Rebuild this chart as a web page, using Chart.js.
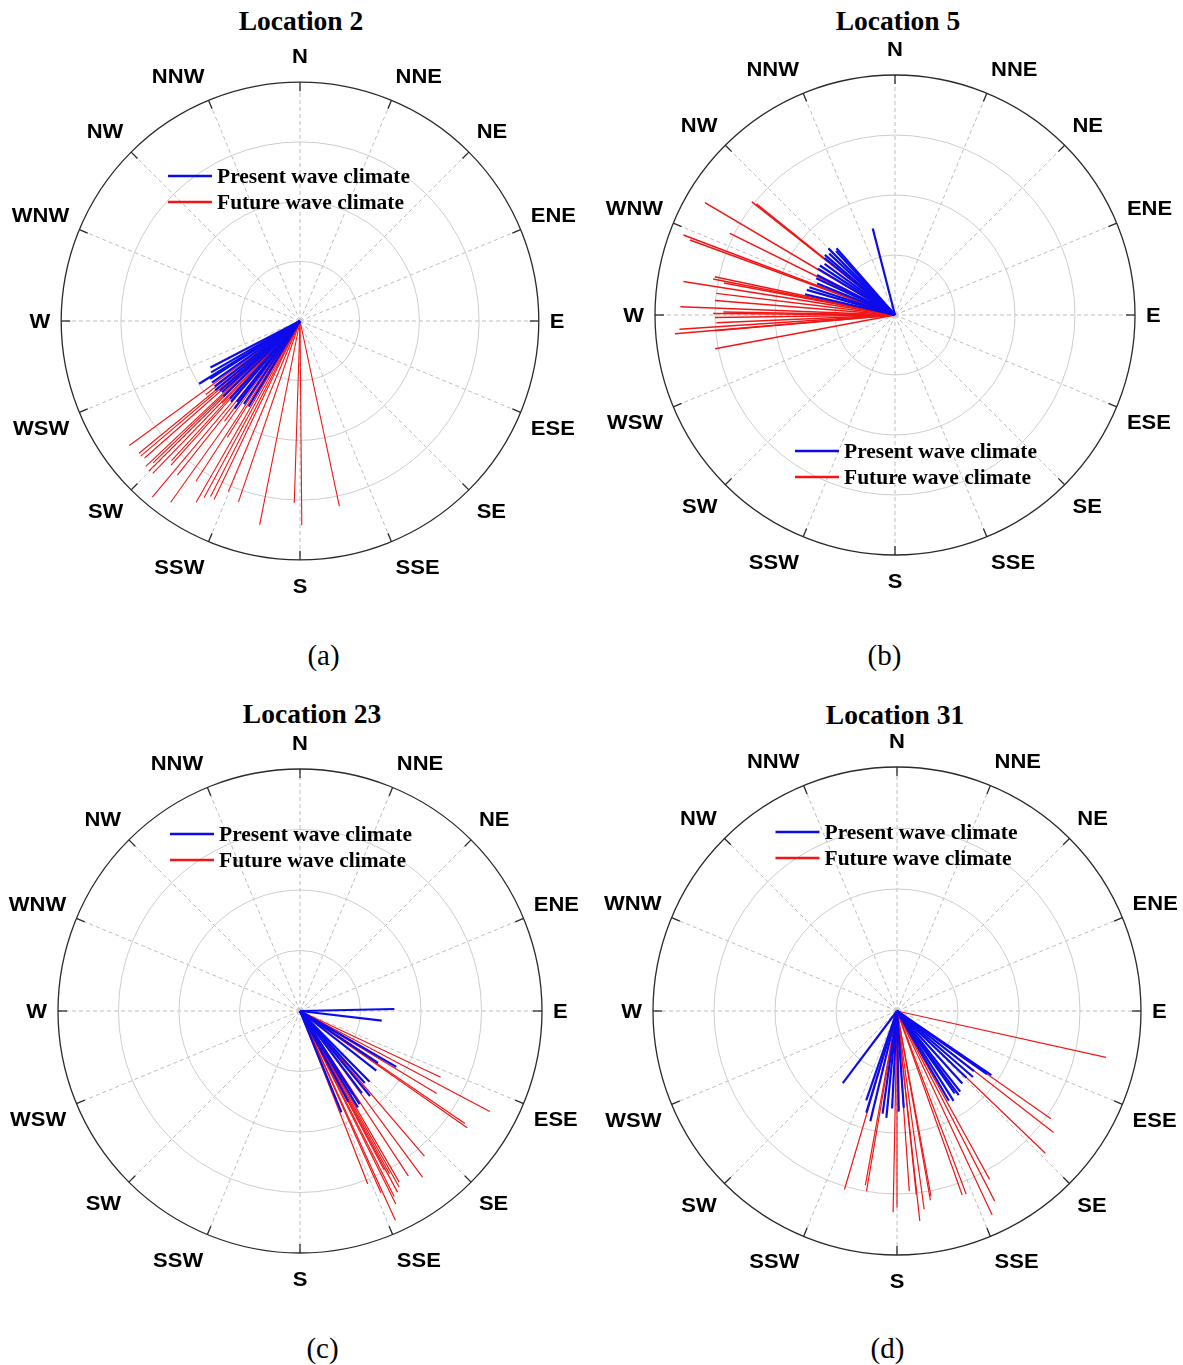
<!DOCTYPE html>
<html>
<head>
<meta charset="utf-8">
<script src="https://cdn.jsdelivr.net/npm/chart.js@4.4.1/dist/chart.umd.min.js"></script>
<style>
  html, body { margin:0; padding:0; background:#fff; }
  body { width:1183px; height:1365px; position:relative; overflow:hidden; font-family:"Liberation Serif","Times New Roman",serif; }
  .panel { position:absolute; }
  .title { position:absolute; font-weight:bold; font-size:27.5px; line-height:1; white-space:nowrap; transform:translateX(-50%); color:#000; }
  .cap { position:absolute; font-size:29px; line-height:1; white-space:nowrap; transform:translateX(-50%); color:#000; }
</style>
</head>
<body>
<script>
// ---------------- DATA ----------------
const directions = ['N','NNE','NE','ENE','E','ESE','SE','SSE','S','SSW','SW','WSW','W','WNW','NW','NNW'];
const ringValues = [1, 2, 3, 4];
const seriesNames = ['Present wave climate', 'Future wave climate'];
const panelTitles = ['Location 2', 'Location 5', 'Location 23', 'Location 31'];
const panelCaptions = ['(a)', '(b)', '(c)', '(d)'];

// Directions in degrees clockwise from North, magnitudes in ring units
const loc2PresentDir = [242.6, 240, 238.1, 237.3, 235, 232.6, 230.8, 229, 227.6, 225.4, 222, 220.5, 218, 216.8, 214, 211];
const loc2PresentMag = [1.69, 1.72, 1.99, 1.79, 1.80, 1.80, 1.83, 1.78, 1.77, 1.80, 1.75, 1.78, 1.72, 1.83, 1.68, 1.67];
const loc2FutureDir = [233.9, 232, 230.6, 229.7, 228.6, 226.7, 226, 225.2, 224, 223.5, 222.6, 221.8, 220, 218.5, 217, 215.5, 213, 212, 209.8, 208.5, 207, 205.7, 202.8, 198.8, 191.2, 181.8, 179.5, 168];
const loc2FutureMag = [3.54, 2.0, 3.49, 3.50, 3.47, 3.55, 3.42, 3.57, 3.55, 1.9, 3.18, 3.24, 3.85, 3.30, 2.1, 3.73, 3.20, 2.3, 3.50, 3.37, 3.30, 3.32, 3.10, 3.20, 3.48, 3.05, 3.42, 3.17];

const loc5PresentDir = [345.6, 318.8, 317.3, 315, 313, 310.6, 309, 306, 303.4, 301, 297.2, 295, 292, 288, 285.9, 283];
const loc5PresentMag = [1.49, 1.48, 1.45, 1.57, 1.50, 1.54, 1.51, 1.45, 1.50, 1.50, 1.46, 1.45, 1.40, 1.50, 1.53, 1.54];
const loc5FutureDir = [308.7, 308.3, 300.6, 296.3, 290.7, 290.1, 282, 281.2, 280.6, 279, 276.9, 274.6, 272.2, 271, 270.5, 269.2, 267.5, 266.2, 265.1, 265, 259.4];
const loc5FutureMag = [2.96, 3.04, 3.68, 3.07, 3.77, 3.64, 3.07, 3.09, 2.90, 3.57, 3.00, 3.01, 3.58, 2.86, 3.03, 3.00, 2.98, 3.60, 3.68, 3.01, 3.05];

const loc23PresentDir = [88.8, 96.7, 120.1, 123.7, 128, 135.5, 138, 140.5, 143, 147.4, 147.6, 149, 152, 157.8];
const loc23PresentMag = [1.56, 1.36, 1.84, 1.55, 1.60, 1.64, 1.60, 1.82, 1.70, 1.83, 1.63, 1.86, 1.70, 1.81];
const loc23FutureDir = [115.2, 117.9, 121.1, 124.3, 124.9, 139.4, 143.6, 146.7, 149.9, 150.6, 151.2, 151.7, 152.1, 153.1, 153.6, 155.5, 156, 158.6];
const loc23FutureMag = [2.57, 3.55, 2.64, 3.30, 3.37, 3.16, 3.41, 3.26, 3.27, 3.34, 3.07, 3.40, 2.98, 3.44, 3.56, 3.80, 3.29, 3.07];

const loc31PresentDir = [216.9, 199, 196.8, 193.6, 188, 185.7, 182.9, 179, 176, 150, 147.8, 145, 143.7, 141.9, 138, 133.9, 131, 128, 125, 124.2];
const loc31PresentMag = [1.48, 1.55, 1.74, 1.86, 1.70, 1.76, 1.60, 1.65, 1.59, 1.70, 1.74, 1.65, 1.71, 1.68, 1.60, 1.58, 1.65, 1.60, 1.80, 1.87];
const loc31FutureDir = [102.5, 125, 127.8, 133.8, 151.2, 152.8, 155, 159.3, 160.5, 169.6, 170, 172.2, 173.8, 174, 176.1, 180, 181.1, 189.6, 190.3, 196.4];
const loc31FutureMag = [3.51, 3.08, 3.25, 3.37, 3.15, 3.50, 3.69, 3.21, 3.20, 3.09, 3.15, 3.28, 3.46, 3.03, 2.96, 3.22, 3.30, 3.00, 2.90, 3.05];

// ---------------- LAYOUT / STYLE ----------------
const presentColor = 'rgb(12,12,235)';
const futureColor = 'rgb(240,22,22)';
const CW = 630, CH = 600;
const layouts = [
  { cx:300,   cy:321,  unit:59.7, redW:1.1, legend:[-132,-145], title:[301,6.5],  cap:[323.5,640.7],  pres:[loc2PresentDir,  loc2PresentMag],  fut:[loc2FutureDir,  loc2FutureMag] },
  { cx:895,   cy:315,  unit:60.0, redW:1.5, legend:[-100, 136], title:[898,6.5],  cap:[884.5,640.7],  pres:[loc5PresentDir,  loc5PresentMag],  fut:[loc5FutureDir,  loc5FutureMag] },
  { cx:300,   cy:1011, unit:60.5, redW:1.2, legend:[-130,-177], title:[312,699.5], cap:[322.5,1333.7], pres:[loc23PresentDir, loc23PresentMag], fut:[loc23FutureDir, loc23FutureMag] },
  { cx:896.5, cy:1011, unit:61.0, redW:1.2, legend:[-121.5,-179], title:[895,700.5], cap:[887.5,1333.7], pres:[loc31PresentDir, loc31PresentMag], fut:[loc31FutureDir, loc31FutureMag] }
];

function rays(dirs, mags, color, width) {
  return dirs.map((d, i) => {
    const a = d * Math.PI / 180;
    return {
      data: [{ x: 0, y: 0 }, { x: mags[i] * Math.sin(a), y: mags[i] * Math.cos(a) }],
      borderColor: color, borderWidth: width, showLine: true,
      pointRadius: 0, pointHoverRadius: 0, fill: false, tension: 0
    };
  });
}

function scaledText(ctx, text, x, y, sx) {
  ctx.save(); ctx.translate(x, y); ctx.scale(sx, 1); ctx.fillText(text, 0, 0); ctx.restore();
}

const polarGrid = {
  id: 'polarGrid',
  beforeDatasetsDraw(chart) {
    const ctx = chart.ctx, xs = chart.scales.x, ys = chart.scales.y;
    const cx = xs.getPixelForValue(0), cy = ys.getPixelForValue(0);
    const u = xs.getPixelForValue(1) - cx;
    const R = ringValues[ringValues.length - 1] * u;
    ctx.save();
    // dashed spokes
    ctx.setLineDash([4, 3]); ctx.lineWidth = 1; ctx.strokeStyle = '#bdbdbd';
    directions.forEach((d, i) => {
      const a = i * 22.5 * Math.PI / 180;
      ctx.beginPath(); ctx.moveTo(cx, cy); ctx.lineTo(cx + R * Math.sin(a), cy - R * Math.cos(a)); ctx.stroke();
    });
    ctx.setLineDash([]);
    // rings
    ringValues.forEach((r, i) => {
      const last = i === ringValues.length - 1;
      ctx.beginPath(); ctx.arc(cx, cy, r * u, 0, Math.PI * 2);
      ctx.strokeStyle = last ? '#2a2a2a' : '#cdcdcd'; ctx.lineWidth = last ? 1.3 : 1; ctx.stroke();
    });
    // ticks on outer ring
    ctx.strokeStyle = '#2a2a2a'; ctx.lineWidth = 1.3;
    directions.forEach((d, i) => {
      const a = i * 22.5 * Math.PI / 180, s = Math.sin(a), c = Math.cos(a);
      ctx.beginPath(); ctx.moveTo(cx + R * s, cy - R * c); ctx.lineTo(cx + (R - 9) * s, cy - (R - 9) * c); ctx.stroke();
    });
    // compass labels
    const fs = 20, sx = 1.1, capH = fs * 0.716;
    ctx.font = 'bold ' + fs + 'px "Liberation Sans", Arial, sans-serif';
    ctx.fillStyle = '#000'; ctx.textAlign = 'center'; ctx.textBaseline = 'alphabetic';
    directions.forEach((d, i) => {
      const a = i * 22.5 * Math.PI / 180, s = Math.sin(a), c = Math.cos(a);
      const w = ctx.measureText(d).width * sx;
      const sgnS = Math.abs(s) < 0.01 ? 0 : Math.sign(s);
      const sgnC = Math.abs(c) < 0.01 ? 0 : Math.sign(c);
      const px = cx + R * s + sgnS * (w / 2) + 11 * s;
      const py = cy - R * c - sgnC * (capH / 2 + 1) - 18 * c;
      scaledText(ctx, d, px, py + capH / 2, sx);
    });
    ctx.restore();
  },
  afterDatasetsDraw(chart, args, opts) {
    const ctx = chart.ctx, xs = chart.scales.x, ys = chart.scales.y;
    const cx = xs.getPixelForValue(0), cy = ys.getPixelForValue(0);
    const lx = cx + opts.legend[0], ly = cy + opts.legend[1];
    ctx.save();
    ctx.font = 'bold 21.5px "Liberation Serif", "Times New Roman", serif';
    ctx.textAlign = 'left'; ctx.textBaseline = 'alphabetic'; ctx.fillStyle = '#000';
    [presentColor, futureColor].forEach((col, k) => {
      const y = ly + k * 26;
      ctx.strokeStyle = col; ctx.lineWidth = 2.6;
      ctx.beginPath(); ctx.moveTo(lx, y); ctx.lineTo(lx + 44, y); ctx.stroke();
      ctx.fillText(seriesNames[k], lx + 49, y + 7);
    });
    ctx.restore();
  }
};

layouts.forEach((L, p) => {
  const t = document.createElement('div'); t.className = 'title'; t.textContent = panelTitles[p];
  t.style.left = L.title[0] + 'px'; t.style.top = L.title[1] + 'px'; document.body.appendChild(t);
  const c = document.createElement('div'); c.className = 'cap'; c.textContent = panelCaptions[p];
  c.style.left = L.cap[0] + 'px'; c.style.top = L.cap[1] + 'px'; document.body.appendChild(c);

  const wrap = document.createElement('div'); wrap.className = 'panel';
  wrap.style.left = (L.cx - CW / 2) + 'px'; wrap.style.top = (L.cy - CH / 2) + 'px';
  wrap.style.width = CW + 'px'; wrap.style.height = CH + 'px';
  const cv = document.createElement('canvas'); cv.width = CW; cv.height = CH;
  cv.style.width = CW + 'px'; cv.style.height = CH + 'px';
  wrap.appendChild(cv); document.body.appendChild(wrap);

  const datasets = rays(L.pres[0], L.pres[1], presentColor, 2.2)
    .concat(rays(L.fut[0], L.fut[1], futureColor, L.redW));

  new Chart(cv, {
    type: 'scatter',
    data: { datasets },
    options: {
      responsive: false, animation: false, devicePixelRatio: 1,
      layout: { padding: 0 },
      events: [],
      scales: {
        x: { type: 'linear', display: false, min: -(CW / 2) / L.unit, max: (CW / 2) / L.unit },
        y: { type: 'linear', display: false, min: -(CH / 2) / L.unit, max: (CH / 2) / L.unit }
      },
      plugins: { legend: { display: false }, title: { display: false }, tooltip: { enabled: false },
        polarGrid: { legend: L.legend } }
    },
    plugins: [polarGrid]
  });
});
</script>
</body>
</html>
